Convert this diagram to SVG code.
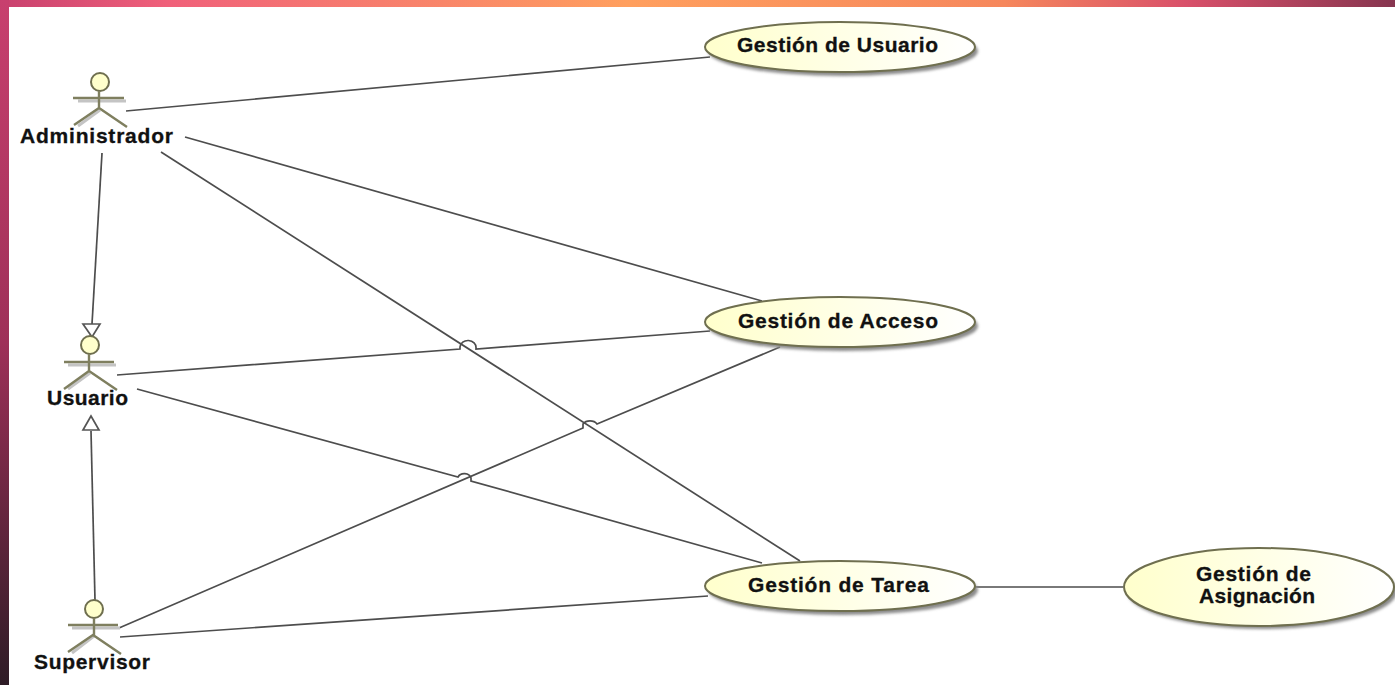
<svg xmlns="http://www.w3.org/2000/svg" width="1395" height="685" viewBox="0 0 1395 685">
<style>
.c{fill:none;stroke:#4d4d4d;stroke-width:1.7}
.a{fill:none;stroke:#7f7f5f;stroke-width:2.4}
.h{fill:#ffffcc;stroke:#6f6f4f;stroke-width:2}
.s{fill:none;stroke:#c4c4c4;stroke-width:3}
.u{fill:url(#uc);stroke:#6f6f4f;stroke-width:2}
.sh{fill:#8a8a8a;filter:url(#b)}
.t{font-family:"Liberation Sans",Arial,sans-serif;font-weight:bold;font-size:21px;fill:#111;stroke:#111;stroke-width:.3}
.m{fill:#fff;stroke:#555;stroke-width:1.7}
</style>
<defs>
<linearGradient id="top" x1="0" x2="1" y1="0" y2="0"><stop offset="0" stop-color="#c8406e"/><stop offset="0.12" stop-color="#f0607a"/><stop offset="0.45" stop-color="#ff9f5e"/><stop offset="0.72" stop-color="#f6875c"/><stop offset="0.85" stop-color="#d9506a"/><stop offset="1" stop-color="#86354f"/></linearGradient>
<linearGradient id="left" x1="0" x2="0" y1="0" y2="1"><stop offset="0" stop-color="#c8406e"/><stop offset="0.5" stop-color="#9e3058"/><stop offset="1" stop-color="#2e1c26"/></linearGradient>
<linearGradient id="uc" x1="0" x2="1" y1="0" y2="0"><stop offset="0" stop-color="#ffffcc"/><stop offset="1" stop-color="#ffffff"/></linearGradient>
<filter id="b" x="-10%" y="-20%" width="120%" height="140%"><feGaussianBlur stdDeviation="1.5"/></filter>
</defs>
<rect width="1395" height="685" fill="#fff"/>
<rect id="band-top" width="1395" height="7" fill="url(#top)"/>
<rect id="band-left" width="9" height="685" fill="url(#left)"/>
<g id="connectors">
<path class="c" d="M126 111L710 57"/>
<path class="c" d="M185 137L762 301"/>
<path class="c" d="M161 152L800 561"/>
<path class="c" d="M102 153L92 324"/>
<path class="c" d="M117 375L460 349V347A8 7 0 0 1 476 348V349L710 331"/>
<path class="c" d="M137 389L458 477A7 6 0 0 1 471 478V481L762 563"/>
<path class="c" d="M119 628L583 428V424A8 6 0 0 1 597 424L780 347"/>
<path class="c" d="M95 600L91 431"/>
<path class="c" d="M120 637L708 596"/>
<path class="c" d="M975 587L1123 587"/>
<path class="m" d="M92 337L83 324H100Z"/>
<path class="m" d="M91 416L83 430H99Z"/>
</g>
<g id="actor-administrador">
<circle cx="100" cy="82" r="9" class="h"/>
<path class="s" d="M78 101H126M78 126L100 110"/>
<path class="a" d="M99 91V108M73 98H124M74 125L99 108L127 127"/>
<text class="t" x="20" y="143" textLength="153">Administrador</text>
</g>
<g id="actor-usuario">
<circle cx="90" cy="345" r="9" class="h"/>
<path class="s" d="M68 365H116M68 389L90 373"/>
<path class="a" d="M89 354V371M64 362H114M64 389L89 371L117 390"/>
<text class="t" x="47" y="405" textLength="81">Usuario</text>
</g>
<g id="actor-supervisor">
<circle cx="94" cy="609" r="9" class="h"/>
<path class="s" d="M72 628H120M72 653L94 636"/>
<path class="a" d="M94 618V635M68 625H118M68 652L93 635L121 654"/>
<text class="t" x="34" y="669" textLength="116">Supervisor</text>
</g>
<g id="uc-usuario">
<ellipse class="sh" cx="843" cy="51" rx="135" ry="25"/>
<ellipse class="u" cx="840" cy="47" rx="135" ry="25"/>
<text class="t" x="737" y="52" textLength="201">Gestión de Usuario</text>
</g>
<g id="uc-acceso">
<ellipse class="sh" cx="843" cy="326" rx="135" ry="25"/>
<ellipse class="u" cx="840" cy="322" rx="135" ry="25"/>
<text class="t" x="738" y="328" textLength="200">Gestión de Acceso</text>
</g>
<g id="uc-tarea">
<ellipse class="sh" cx="843" cy="590" rx="135" ry="25"/>
<ellipse class="u" cx="840" cy="586" rx="135" ry="25"/>
<text class="t" x="748" y="592" textLength="181">Gestión de Tarea</text>
</g>
<g id="uc-asignacion">
<ellipse class="sh" cx="1262" cy="591" rx="135" ry="38"/>
<ellipse class="u" cx="1259" cy="587" rx="135" ry="39"/>
<text class="t" x="1196" y="581" textLength="115">Gestión de</text>
<text class="t" x="1199" y="603" textLength="116">Asignación</text>
</g>
</svg>
